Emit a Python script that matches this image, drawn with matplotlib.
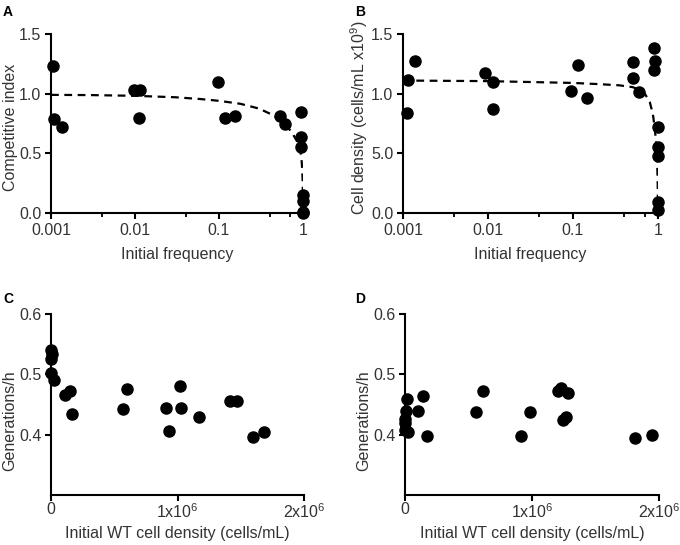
import numpy as np
import matplotlib
matplotlib.use("Agg")
import matplotlib.pyplot as plt
from matplotlib.ticker import FixedLocator, NullFormatter

plt.rcParams['font.family'] = ['Liberation Sans', 'DejaVu Sans']
plt.rcParams['mathtext.default'] = 'regular'
plt.rcParams['text.color'] = '#333333'
plt.rcParams['axes.labelcolor'] = '#333333'
plt.rcParams['xtick.color'] = 'black'
plt.rcParams['ytick.color'] = 'black'
plt.rcParams['xtick.labelcolor'] = '#333333'
plt.rcParams['ytick.labelcolor'] = '#333333'

# panel A: competitive index vs initial frequency
a_freq = [0.00105, 0.0011, 0.00136, 0.0096, 0.0115, 0.0113, 0.098, 0.117, 0.155,
          0.53, 0.605, 0.955, 0.94, 0.94, 1.0, 1.0, 1.0, 1.0]
a_ci = [1.23, 0.79, 0.72, 1.03, 1.03, 0.795, 1.096, 0.80, 0.81,
        0.81, 0.747, 0.85, 0.636, 0.549, 0.148, 0.10, 0.012, 0.0]
a_fit_x = [0.001, 0.003, 0.01, 0.03, 0.06, 0.1, 0.18, 0.3, 0.44, 0.6, 0.73,
           0.85, 0.92, 0.96, 0.98, 0.99, 0.997, 1.0]
a_fit_y = [0.99, 0.988, 0.982, 0.97, 0.955, 0.94, 0.915, 0.875, 0.82, 0.75, 0.68,
           0.6, 0.54, 0.45, 0.36, 0.27, 0.14, 0.0]

# panel B: cell density vs initial frequency
b_freq = [0.0011, 0.00115, 0.0014, 0.0093, 0.0115, 0.0115, 0.096, 0.115, 0.148,
          0.51, 0.51, 0.59, 0.89, 0.91, 0.9, 1.0, 1.0, 1.0, 1.0, 1.0]
b_dens = [0.836, 1.115, 1.277, 1.177, 1.101, 0.870, 1.026, 1.241, 0.962,
          1.269, 1.129, 1.018, 1.38, 1.277, 1.199, 0.717, 0.552, 0.474, 0.092, 0.028]
b_fit_x = [0.001, 0.01, 0.1, 0.2, 0.35, 0.5, 0.6, 0.7, 0.8, 0.87, 0.92, 0.96,
           0.98, 0.99, 1.0]
b_fit_y = [1.11, 1.105, 1.09, 1.08, 1.07, 1.055, 1.035, 1.0, 0.93, 0.83, 0.7,
           0.55, 0.4, 0.28, 0.0]

# panel C / D: generations per hour vs initial WT density
c_dens = [0, 10000, 0, 0, 20000, 113000, 147000, 165000, 572000, 604000,
          913000, 934000, 1018000, 1030000, 1168000, 1417000, 1470000, 1596000, 1682000]
c_gen = [0.54, 0.533, 0.525, 0.502, 0.49, 0.465, 0.472, 0.434, 0.442, 0.476,
         0.444, 0.406, 0.48, 0.444, 0.430, 0.455, 0.455, 0.396, 0.404]

d_dens = [13000, 5000, 0, 0, 0, 26000, 100000, 144000, 176000, 559000, 617000,
          913000, 984000, 1207000, 1226000, 1286000, 1247000, 1268000, 1811000, 1942000]
d_gen = [0.459, 0.439, 0.426, 0.419, 0.408, 0.404, 0.439, 0.464, 0.398, 0.437, 0.473,
         0.398, 0.437, 0.473, 0.477, 0.469, 0.425, 0.430, 0.394, 0.399]

freq_ticks = [0.001, 0.01, 0.1, 1]
freq_labels = ['0.001', '0.01', '0.1', '1']
freq_minor = [0.004, 0.04, 0.4, 0.7]
dens_ticks = [0, 1e6, 2e6]
dens_labels = ['0', '1x10$^6$', '2x10$^6$']

W, H = 680, 545
fig = plt.figure(figsize=(W / 100, H / 100), dpi=100)
FS = 11.5


def box(x0, x1, ytop, ybot):
    return [x0 / W, 1 - ybot / H, (x1 - x0) / W, (ybot - ytop) / H]


def style(ax):
    for s in ['top', 'right']:
        ax.spines[s].set_visible(False)
    for s in ['left', 'bottom']:
        ax.spines[s].set_linewidth(1.5)
    ax.tick_params(which='major', length=4, width=1.5, labelsize=FS, pad=3)
    ax.tick_params(which='minor', length=3, width=1.3)


def dots(ax, x, y):
    ax.plot(x, y, 'o', color='black', ms=8, clip_on=False, zorder=3)


axA = fig.add_axes(box(51, 303, 34, 213))
axB = fig.add_axes(box(403, 658, 34, 213))
for ax, fx, fy, px, py, ylab, ly in [
        (axA, a_fit_x, a_fit_y, a_freq, a_ci, 'Competitive index', 0.48),
        (axB, b_fit_x, b_fit_y, b_freq, b_dens, 'Cell density (cells/mL x10$^9$)', 0.53)]:
    style(ax)
    ax.plot(fx, fy, color='black', lw=1.6, ls=(0, (3.5, 2.5)), zorder=2)
    dots(ax, px, py)
    ax.set_xscale('log')
    ax.set_xlim(0.001, 1)
    ax.set_ylim(0, 1.5)
    ax.set_xticks(freq_ticks)
    ax.set_xticklabels(freq_labels)
    ax.xaxis.set_minor_locator(FixedLocator(freq_minor))
    ax.xaxis.set_minor_formatter(NullFormatter())
    ax.set_yticks([0, 0.5, 1.0, 1.5])
    ax.set_xlabel('Initial frequency', fontsize=FS, labelpad=7)
    ax.set_ylabel(ylab, fontsize=FS, labelpad=1, y=ly)
axA.set_yticklabels(['0.0', '0.5', '1.0', '1.5'])
axB.set_yticklabels(['0.0', '5.0', '1.0', '1.5'])

axC = fig.add_axes(box(51, 304, 314, 495))
axD = fig.add_axes(box(405, 659, 314, 495))
for ax, px, py in [(axC, c_dens, c_gen), (axD, d_dens, d_gen)]:
    style(ax)
    dots(ax, px, py)
    ax.set_xlim(0, 2e6)
    ax.set_ylim(0.3, 0.6)
    ax.set_xticks(dens_ticks)
    ax.set_xticklabels(dens_labels)
    ax.set_yticks([0.4, 0.5, 0.6])
    ax.set_yticklabels(['0.4', '0.5', '0.6'])
    ax.tick_params(axis='x', pad=1)
    ax.set_xlabel('Initial WT cell density (cells/mL)', fontsize=FS, labelpad=4)
    ax.set_ylabel('Generations/h', fontsize=FS, labelpad=1, y=0.41)

for lab, x, y in [('A', 3, 5), ('B', 355, 5), ('C', 3, 292), ('D', 355, 292)]:
    fig.text(x / W, 1 - y / H, lab, fontsize=10, fontweight='bold',
             color='black', va='top', ha='left')

fig.savefig('out.png', dpi=100)
